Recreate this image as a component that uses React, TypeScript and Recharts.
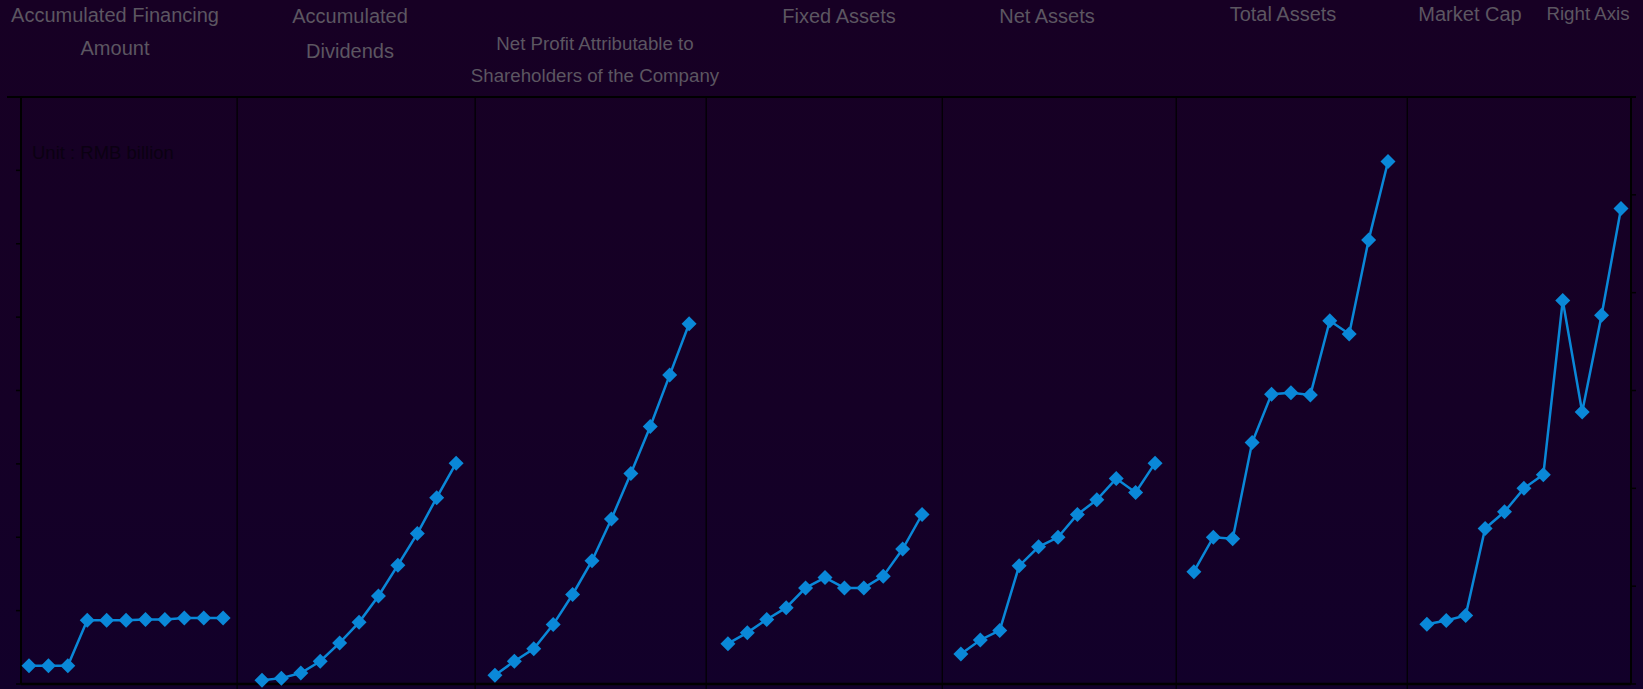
import { Line, LineChart, ReferenceLine, XAxis, YAxis } from "recharts";

const lineBlue = "#0a88d8";
const headerGrey = "#5c5661";

// 11 yearly points per panel, read in left-axis units (market cap in right-axis units)
const financing = [0.25, 0.25, 0.25, 0.87, 0.87, 0.87, 0.88, 0.88, 0.9, 0.9, 0.9];
const dividends = [0.05, 0.08, 0.15, 0.31, 0.56, 0.84, 1.2, 1.62, 2.05, 2.54, 3.01];
const netProfit = [0.12, 0.31, 0.48, 0.81, 1.22, 1.68, 2.25, 2.87, 3.51, 4.21, 4.91];
const fixedAssets = [0.55, 0.7, 0.88, 1.04, 1.31, 1.45, 1.31, 1.31, 1.47, 1.84, 2.31];
const netAssets = [0.41, 0.6, 0.73, 1.61, 1.87, 2.0, 2.31, 2.51, 2.8, 2.61, 3.01];
const totalAssets = [1.53, 2.0, 1.98, 3.29, 3.95, 3.97, 3.94, 4.95, 4.77, 6.05, 7.12];
const marketCap = [0.61, 0.65, 0.7, 1.59, 1.76, 2.0, 2.14, 3.92, 2.78, 3.77, 4.86];

const leftTicks = [0, 1, 2, 3, 4, 5, 6, 7, 8];
const rightTicks = [0, 1, 2, 3, 4, 5, 6];
const separators = [10.72, 22.98, 34.88, 47.04, 59.09, 70.99];

const headers = [
  { lines: ["Accumulated Financing", "Amount"], x: 115, top: [5, 38], size: 20 },
  { lines: ["Accumulated", "Dividends"], x: 350, top: [6, 41], size: 20 },
  { lines: ["Net Profit Attributable to", "Shareholders of the Company"], x: 595, top: [34, 66], size: 18.7 },
  { lines: ["Fixed Assets"], x: 839, top: [6], size: 20 },
  { lines: ["Net Assets"], x: 1047, top: [6], size: 20 },
  { lines: ["Total Assets"], x: 1283, top: [4], size: 20 },
  { lines: ["Market Cap"], x: 1470, top: [4], size: 20 },
  { lines: ["Right Axis"], x: 1588, top: [4], size: 18.7 },
];

const panels = [financing, dividends, netProfit, fixedAssets, netAssets, totalAssets, marketCap];

function toPoints(values: number[], panel: number) {
  return values.map((v, i) => ({ x: panel * 12 + i, v }));
}

function Diamond(props: any) {
  const { cx, cy, index } = props;
  if (cx == null || cy == null) return null;
  const r = 7.5;
  return (
    <path
      key={`d-${index}`}
      d={`M${cx},${cy - r}L${cx + r},${cy}L${cx},${cy + r}L${cx - r},${cy}Z`}
      fill={lineBlue}
    />
  );
}

export default function App() {
  return (
    <div
      style={{
        position: "fixed",
        left: 0,
        top: 0,
        width: 1643,
        height: 689,
        background: "linear-gradient(180deg, #170024 0%, #150026 60%, #12002a 100%)",
        fontFamily: "'Liberation Sans', Arial, sans-serif",
        overflow: "hidden",
      }}
    >
      {headers.map((h) =>
        h.lines.map((t, i) => (
          <div
            key={t}
            style={{
              position: "absolute",
              left: h.x,
              top: h.top[i],
              transform: "translateX(-50%)",
              whiteSpace: "nowrap",
              fontSize: h.size,
              lineHeight: "20px",
              color: headerGrey,
            }}
          >
            {t}
          </div>
        ))
      )}
      <div
        style={{ position: "absolute", left: 7, top: 96, width: 1629, height: 2, background: "#000" }}
      />
      <div
        style={{
          position: "absolute",
          left: 32,
          top: 143,
          fontSize: 18.5,
          lineHeight: "20px",
          color: "#0b0012",
          whiteSpace: "nowrap",
        }}
      >
        Unit : RMB billion
      </div>
      <div style={{ position: "absolute", left: 0, top: 0 }}>
        <LineChart width={1643} height={689} margin={{ top: 97, right: 0, bottom: 0, left: 0 }}>
          <XAxis
            dataKey="x"
            type="number"
            domain={[-0.412, 82.515]}
            ticks={separators}
            tickFormatter={() => ""}
            tickSize={5}
            height={5}
            axisLine={{ stroke: "#000", strokeWidth: 2.5 }}
            tickLine={{ stroke: "#000", strokeWidth: 1.2 }}
            allowDataOverflow
          />
          <YAxis
            yAxisId="left"
            domain={[0, 8]}
            ticks={leftTicks}
            tickFormatter={() => ""}
            tickSize={5}
            width={21}
            axisLine={{ stroke: "#000", strokeWidth: 2 }}
            tickLine={{ stroke: "#000", strokeWidth: 1.5 }}
          />
          <YAxis
            yAxisId="right"
            orientation="right"
            domain={[0, 6]}
            ticks={rightTicks}
            tickFormatter={() => ""}
            tickSize={5}
            width={12}
            axisLine={{ stroke: "#000", strokeWidth: 2 }}
            tickLine={{ stroke: "#000", strokeWidth: 1.5 }}
          />
          {separators.map((s) => (
            <ReferenceLine key={s} yAxisId="left" x={s} stroke="#000" strokeWidth={1.2} />
          ))}
          {panels.map((values, p) => (
            <Line
              key={p}
              yAxisId={p === 6 ? "right" : "left"}
              data={toPoints(values, p)}
              dataKey="v"
              stroke={lineBlue}
              strokeWidth={2.5}
              dot={<Diamond />}
              activeDot={false}
              isAnimationActive={false}
            />
          ))}
        </LineChart>
      </div>
    </div>
  );
}
